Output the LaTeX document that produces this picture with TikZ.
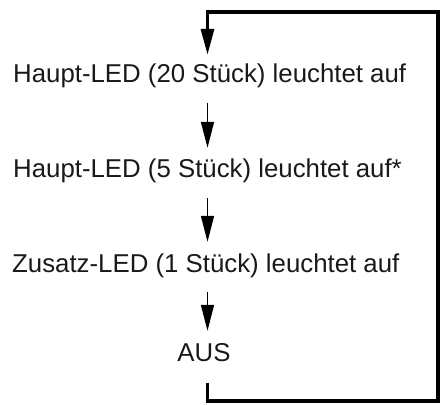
\documentclass[tikz,border=0pt]{standalone}
\usepackage{fontspec}
\setmainfont{Liberation Sans}
\usetikzlibrary{arrows.meta}

\begin{document}
\begin{tikzpicture}[x=1pt,y=1pt,
  stage/.style={anchor=base west,inner sep=0pt,text height=19pt,text depth=5pt,text=black!90,font=\fontsize{25.8pt}{30pt}\selectfont},
  flow/.style={line width=1.6pt,-{Triangle[length=26pt,width=13pt]},shorten <=15pt,shorten >=11pt},
  loopline/.style={line width=3.2pt,-{Triangle[length=26pt,width=13pt]},shorten <=17pt,shorten >=9pt}]

\useasboundingbox (0,0) rectangle (443,404);

\node[stage] (haupt20) at (13,321) {Haupt-LED (20 Stück) leuchtet auf};
\node[stage] (haupt5) at (13,226) {Haupt-LED (5 Stück) leuchtet auf*};
\node[stage] (zusatz) at (12,132) {Zusatz-LED (1 Stück) leuchtet auf};
\node[stage,anchor=base] (aus) at (204,43) {AUS};

\coordinate (spine) at (207.5,392);
\coordinate (edge) at (438,3);

\draw[flow] (haupt20.south -| spine) -- (haupt5.north -| spine);
\draw[flow] (haupt5.south -| spine) -- (zusatz.north -| spine);
\draw[flow] (zusatz.south -| spine) -- (aus.north -| spine);

\draw[loopline] (aus.south -| spine) |- (edge) |- (spine) -- (haupt20.north -| spine);

\end{tikzpicture}
\end{document}
